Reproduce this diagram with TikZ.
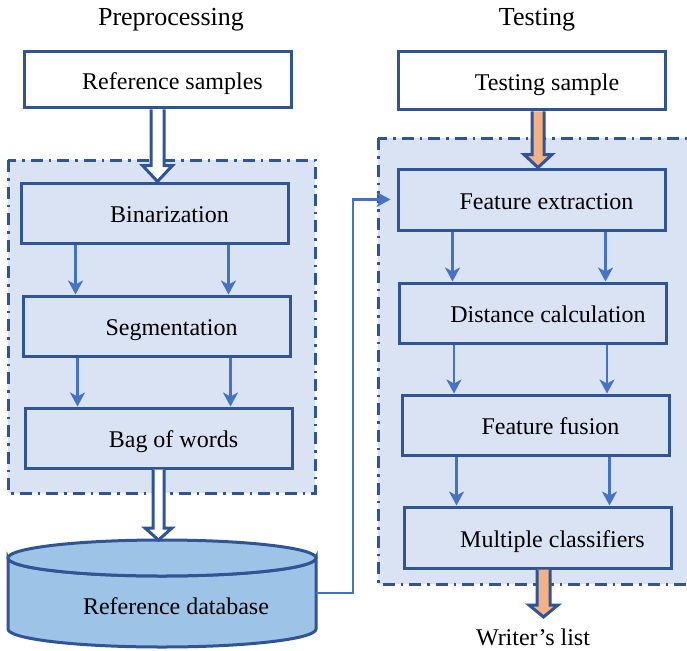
\documentclass[tikz,border=0pt]{standalone}
\usepackage{fontspec}
\setmainfont{Liberation Serif}
\usepackage{tikz}
\usepackage{xcolor}
\usetikzlibrary{arrows.meta, positioning, calc}

\definecolor{boxblue}{HTML}{2F5597}
\definecolor{linkblue}{HTML}{4472C4}
\definecolor{panelfill}{HTML}{DAE3F3}
\definecolor{dbfill}{HTML}{9DC3E6}
\definecolor{outorange}{HTML}{F4B183}

% hollow block arrow: from, tip, fill, half shaft, half head, head length
\newcommand{\fatarrow}[6]{%
  \filldraw[fatedge, fill=#3] let \p1=(#1), \p2=(#2) in
    (\x2-#4pt,\y1) -- (\x2-#4pt,\y2+#6pt) -- (\x2-#5pt,\y2+#6pt) -- (\x2,\y2)
    -- (\x2+#5pt,\y2+#6pt) -- (\x2+#4pt,\y2+#6pt) -- (\x2+#4pt,\y1);}

\begin{document}
\begin{tikzpicture}[x=1pt, y=-1pt,
  txt/.style={font=\fontsize{24}{28}\selectfont, inner sep=0pt},
  title/.style={font=\fontsize{26}{30}\selectfont, inner sep=0pt},
  stage/.style={draw=boxblue, line width=3pt, fill=panelfill, minimum width=267pt,
    minimum height=60pt, inner sep=0pt, text height=19pt, text depth=0pt,
    font=\fontsize{24}{28}\selectfont, execute at begin node=\hspace*{30pt}},
  panel/.style={fill=panelfill, draw=boxblue, line width=3pt,
    dash pattern=on 12pt off 6pt on 2.5pt off 6pt},
  link/.style={draw=linkblue, line width=2.5pt,
    -{Stealth[length=14pt, width=15pt, inset=4pt]}},
  fatedge/.style={draw=boxblue, line width=3pt, line join=miter}]
\useasboundingbox (0,0) rectangle (687,650);
\clip (0,0) rectangle (687,650);

% dash-dotted group panels
\filldraw[panel] (8,160) rectangle (315,493);
\filldraw[panel] (378,138) rectangle (705,584);

\node[title] (pre) at (171,20) {Preprocessing};
\node[title] (tst) at (537,20) {Testing};

% preprocessing column
\node[stage, fill=white, minimum height=56pt] (ref) at (157.5,80) {Reference samples};
\node[stage] (bin) at (154.5,213) {Binarization};
\node[stage] (seg) at (156.5,326) {Segmentation};
\node[stage] (bag) at (158.5,438) {Bag of words};

% reference database cylinder
\filldraw[draw=boxblue, line width=3pt, fill=dbfill] (8,558) -- (8,629)
  arc[start angle=180, end angle=0, x radius=154, y radius=18] -- (316,558)
  arc[start angle=0, end angle=180, x radius=154, y radius=18] -- cycle;
\filldraw[draw=boxblue, line width=3pt, fill=dbfill] (162,558) ellipse[x radius=154, y radius=18];
\node[txt, minimum width=308pt, execute at begin node=\hspace*{28pt}] (db) at (162,606) {Reference database};
\coordinate (dbtop) at (162,540);

% testing column
\node[stage, fill=white, minimum height=58pt] (test) at (532,81) {Testing sample};
\node[stage, minimum height=61pt] (feat) at (531.5,199.5) {Feature extraction};
\node[stage] (dist) at (533,313) {Distance calculation};
\node[stage] (fus) at (535.5,425) {Feature fusion};
\node[stage, minimum height=61pt] (multi) at (537.5,537.5) {Multiple classifiers};
\node[txt] (wl) at (533,637) {Writer’s list};

% thin arrows between stages
\foreach \a/\b in {bin/seg, seg/bag, feat/dist, dist/fus, fus/multi} {
  \foreach \dx in {56,209} {
    \path ($(\a.south west)+(\dx,0)$) coordinate (p);
    \draw[link] (p) -- (p |- \b.north);
  }
}

% database feeds feature extraction
\draw[link, shorten >=6pt] ($(db.east)+(0,-13)$) -- ++(37,0) |- (feat.west);

% block arrows
\fatarrow{ref.south}{bin.north -| ref.south}{white}{6.5}{15}{16}
\fatarrow{bag.south}{dbtop -| bag.south}{white}{5.5}{13.5}{12}
\coordinate (tin) at ($(test.south)+(6,0)$);
\coordinate (tout) at ($(multi.south)+(6,0)$);
\fatarrow{tin}{tin |- feat.north}{outorange}{6}{14}{13}
\fatarrow{tout}{tout |- 0,617}{outorange}{6.5}{14.5}{12}
\end{tikzpicture}
\end{document}
